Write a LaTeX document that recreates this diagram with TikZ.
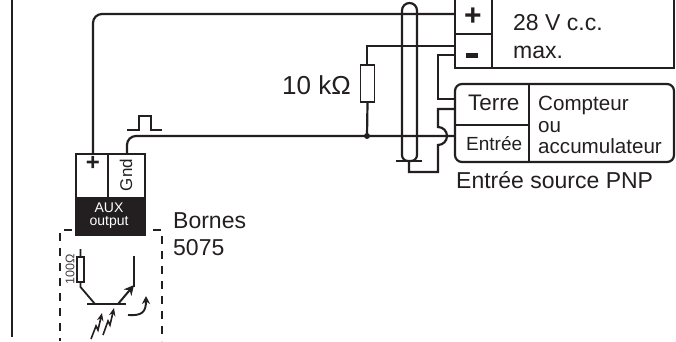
\documentclass[tikz,border=0pt]{standalone}
\usepackage{fontspec}
\setmainfont{Liberation Sans}
\usetikzlibrary{arrows.meta,calc}
\definecolor{ink}{HTML}{231F20}
\tikzset{
  wire/.style={draw=ink,line width=2.2pt},
  thin wire/.style={draw=ink,line width=1.8pt},
  lbl/.style={inner sep=0pt,anchor=base west,text=ink},
  bigt/.style={lbl,font=\fontsize{23}{23}\selectfont},
  medt/.style={lbl,font=\fontsize{23}{23}\selectfont},
  smallt/.style={lbl,font=\fontsize{20.6}{20.6}\selectfont},
}
\begin{document}
\begin{tikzpicture}[x=1pt,y=-1pt]
\useasboundingbox (0,0) rectangle (676,341);
\fill[white] (0,0) rectangle (676,341);
% named points
\coordinate (plusT) at (93,154);
\coordinate (gndT) at (127,154);
\coordinate (boxPlus) at (455,14);
\coordinate (boxMinusA) at (455,46);
\coordinate (boxMinusB) at (455,55);
\coordinate (terreA) at (455,99);
\coordinate (terreB) at (455,109);
\coordinate (entreeP) at (455,136);
\coordinate (junction) at (367,136);
\coordinate (gndBar) at (409,161);
% left rule
\draw[wire] (12,0) -- (12,337);
% supply box
\draw[wire] (455,-3) -- (455,68) -- (674,68) -- (674,-3);
\draw[wire] (492,-3) -- (492,68);
\draw[wire] (455,34) -- (492,34);
\node[lbl,font=\bfseries\fontsize{30}{30}\selectfont] (plusSign) at (464,25) {+};
\fill[ink] (466,53) rectangle (478,58);
\node[medt] (vtxt) at (513,30) {28 V c.c.};
\node[medt] (maxtxt) at (513,58) {max.};
% counter box
\draw[wire,rounded corners=7pt] (455,84) rectangle (674,162);
\draw[wire] (529,84) -- (529,162);
\draw[wire] (455,125) -- (529,125);
\node[lbl,font=\fontsize{22.5}{22.5}\selectfont] (terre) at (468,110) {Terre};
\node[lbl,font=\fontsize{19}{19}\selectfont] (entree) at (466,150) {Entrée};
\node[smallt] (cpt) at (538,110) {Compteur};
\node[smallt] (ou) at (538,132) {ou};
\node[smallt] (acc) at (538,153) {accumulateur};
\node[bigt] (src) at (456,188) {Entrée source PNP};
% wires
\draw[wire,rounded corners=9pt] (plusT) -- (93,14) -- (boxPlus);
\draw[wire] (boxMinusA) -- (367,46) -- (367,65);
\node[draw=ink,line width=1.9pt,fill=white,minimum width=14pt,minimum height=37pt,inner sep=0pt] (rk) at (367.5,83.5) {};
\draw[wire] (rk.south) -- (junction);
\fill[ink] (junction) circle (3pt);
\draw[wire,rounded corners=9pt] (gndT) -- (127,136) -- (entreeP);
\draw[wire] (boxMinusB) -- (438,55) -- (438,99) -- (terreA);
% shield
\draw[wire,rounded corners=7.5pt] (402,100) -- (402,3) -- (417,3) -- (417,100);
\draw[wire,rounded corners=6pt] (402,100) -- (402,161) -- (417,161) -- (417,100);
\draw[wire] (396,161) -- (422,161);
\draw[wire] (gndBar) -- (409,172) -- (438,172) -- (438,145)
  arc[start angle=90,end angle=-90,radius=9] -- (438,109) -- (terreB);
\node[lbl,font=\fontsize{26}{26}\selectfont] (rkt) at (282,94) {10 kΩ};
% pulse
\draw[thin wire] (127,130) -- (139,130) -- (139,116) -- (151,116) -- (151,130) -- (162,130);
% aux block
\draw[wire] (76,197) -- (76,154) -- (145,154) -- (145,197);
\draw[wire] (108,154) -- (108,197);
\fill[ink] (75,197) rectangle (146,236);
\node[inner sep=0pt,font=\bfseries\fontsize{24}{24}\selectfont,text=ink] (plusAux) at (93,163) {+};
\node[inner sep=0pt,rotate=90,font=\fontsize{17}{17}\selectfont,text=ink] (gndt) at (126,175) {Gnd};
\node[inner sep=0pt,text=white,font=\fontsize{14}{14}\selectfont] (aux) at (109,207.5) {AUX};
\node[inner sep=0pt,text=white,font=\fontsize{14}{14}\selectfont] (outp) at (109,222) {output};
\node[medt] (bornes) at (173,228) {Bornes};
\node[medt] (n5075) at (173,255) {5075};
% dashed enclosure
\draw[ink,line width=1.7pt,dash pattern=on 8pt off 7pt] (72,230) -- (60,230) -- (60,341);
\draw[ink,line width=1.7pt,dash pattern=on 8pt off 7pt] (153,230) -- (162,230) -- (162,341);
% phototransistor
\draw[ink,line width=1.8pt] (80.5,249) -- (80.5,287) -- (95,304);
\node[draw=ink,line width=1.5pt,fill=white,minimum width=7pt,minimum height=25pt,inner sep=0pt] (r100) at (80.5,269.5) {};
\node[inner sep=0pt,rotate=90,font=\fontsize{12.5}{12.5}\selectfont,text=ink!85] (r100t) at (70,269) {100Ω};
\draw[ink,line width=2.2pt] (87,304) -- (126,304);
\draw[ink,line width=2pt,-{Stealth[length=10pt,width=10pt]}] (118,304) -- (134,285);
\draw[ink,line width=2.2pt] (134,287) -- (134,256);
\draw[ink,line width=1.9pt,-{Stealth[length=8pt,width=8pt]}] (128,315) .. controls (142,316) and (146,312) .. (146,296);
\draw[ink,line width=1.6pt,-{Stealth[length=8pt,width=6.5pt]}] (91,339) -- (96,326) -- (98,330) -- (102,313);
\draw[ink,line width=1.6pt,-{Stealth[length=8pt,width=6.5pt]}] (103,335) -- (108,321) -- (110,325) -- (114,308);
\end{tikzpicture}
\end{document}
